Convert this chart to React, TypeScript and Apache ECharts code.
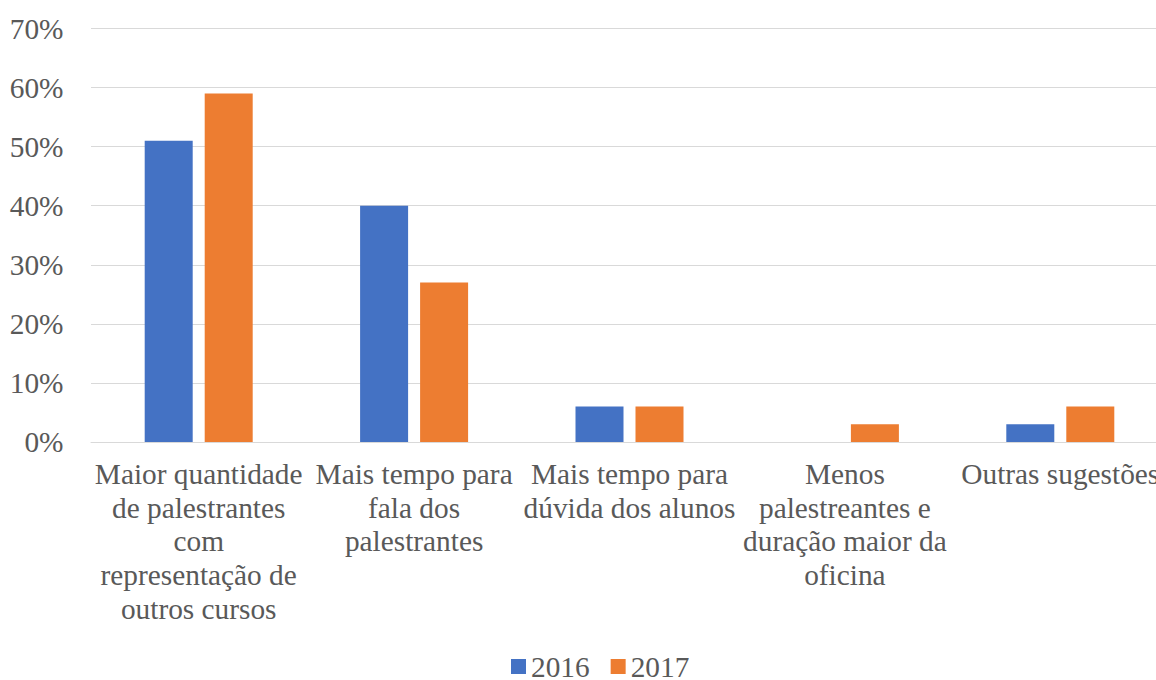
import React, { useEffect, useRef } from "react";
import * as echarts from "echarts";

const categories = [
  "Maior quantidade\nde palestrantes\ncom\nrepresentação de\noutros cursos",
  "Mais tempo para\nfala dos\npalestrantes",
  "Mais tempo para\ndúvida dos alunos",
  "Menos\npalestreantes e\nduração maior da\noficina",
  "Outras sugestões",
];
const values2016 = [51, 40, 6, 0, 3];
const values2017 = [59, 27, 6, 3, 6];
const seriesNames = ["2016", "2017"];

const FONT = "Liberation Serif, DejaVu Serif, serif";
const TEXT = "#595959";
const FS = 29.33;

export default function App() {
  const ref = useRef<HTMLDivElement>(null);
  useEffect(() => {
    document.body.style.margin = "0";
    const chart = echarts.init(ref.current!, null, { renderer: "svg" });
    chart.setOption({
      animation: false,
      textStyle: { fontFamily: FONT },
      grid: { left: 91, right: 0, top: 28.5, bottom: 238, containLabel: false },
      legend: {
        data: seriesNames,
        left: 506,
        top: 647,
        itemWidth: 15,
        itemHeight: 15,
        itemGap: 21,
        icon: "rect",
        textStyle: { fontFamily: FONT, fontSize: FS, color: TEXT },
      },
      xAxis: {
        type: "category",
        data: categories,
        axisTick: { show: false },
        axisLine: { lineStyle: { color: "#d9d9d9", width: 1 } },
        axisLabel: {
          interval: 0,
          fontFamily: FONT,
          fontSize: FS,
          color: TEXT,
          lineHeight: 33.7,
          margin: 15,
          align: "center",
        },
      },
      yAxis: {
        type: "value",
        min: 0,
        max: 70,
        interval: 10,
        axisLine: { show: false },
        axisTick: { show: false },
        splitLine: { lineStyle: { color: "#d9d9d9", width: 1 } },
        axisLabel: {
          formatter: "{value}%",
          fontFamily: FONT,
          fontSize: FS,
          color: TEXT,
          margin: 27.5,
        },
      },
      series: [
        {
          name: seriesNames[0],
          type: "bar",
          data: values2016,
          barWidth: 48,
          barGap: "25%",
          itemStyle: { color: "#4472C4" },
        },
        {
          name: seriesNames[1],
          type: "bar",
          data: values2017,
          barWidth: 48,
          itemStyle: { color: "#ED7D31" },
        },
      ],
    });
    return () => chart.dispose();
  }, []);
  return (
    <div style={{ width: 1156, height: 680, overflow: "hidden", position: "relative" }}>
      <div ref={ref} style={{ width: 1168, height: 680 }} />
    </div>
  );
}
